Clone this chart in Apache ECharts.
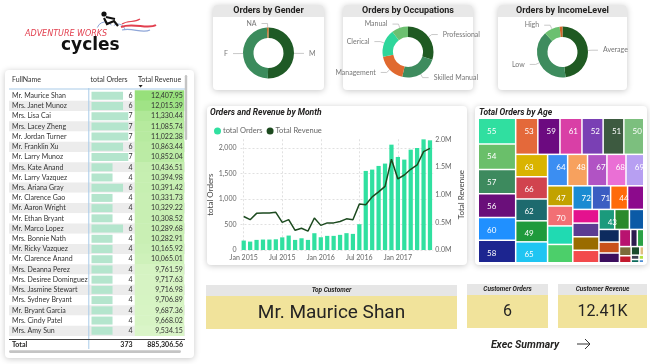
<!DOCTYPE html>
<html><head><meta charset="utf-8">
<script src="https://cdn.jsdelivr.net/npm/echarts@6/dist/echarts.min.js"></script>
<style>html,body{margin:0;padding:0;background:#fff}#c{width:650px;height:364px}</style>
</head><body><div id="c"></div><script>
// ---------- DATA ----------
const custNames = ['Mr. Maurice Shan','Mrs. Janet Munoz','Mrs. Lisa Cai','Mrs. Lacey Zheng','Mr. Jordan Turner','Mr. Franklin Xu','Mr. Larry Munoz','Mrs. Kate Anand','Mr. Larry Vazquez','Mrs. Ariana Gray','Mr. Clarence Gao','Mr. Aaron Wright','Mr. Ethan Bryant','Mr. Marco Lopez','Mrs. Bonnie Nath','Mr. Ricky Vazquez','Mr. Clarence Anand','Mrs. Deanna Perez','Mrs. Desiree Dominguez','Mrs. Jasmine Stewart','Mrs. Sydney Bryant','Mr. Bryant Garcia','Mrs. Cindy Patel','Mrs. Amy Sun'];
const custOrders = [6,6,7,7,7,6,7,4,4,6,4,4,4,6,4,4,4,4,4,4,4,4,4,4];
const custRevenue = [12407.95,12015.39,11330.44,11085.74,11022.38,10863.44,10852.04,10436.51,10394.98,10391.42,10331.73,10329.22,10308.52,10289.68,10282.91,10165.92,10065.01,9761.59,9717.63,9716.98,9706.89,9687.36,9668.02,9534.15];
const tableTotalOrders = 373;
const tableTotalRevenue = 885306.56;

const genderCats = ['M','F','NA'];
const genderOrders = [12200, 11750, 250];
const occCats = ['Professional','Skilled Manual','Management','Clerical','Manual'];
const occOrders = [7400, 5900, 4550, 4350, 2600];
const incomeCats = ['Average','Low','High','NA'];
const incomeOrders = [11900, 9900, 2500, 450];

const months = ['Jan 2015','Feb 2015','Mar 2015','Apr 2015','May 2015','Jun 2015','Jul 2015','Aug 2015','Sep 2015','Oct 2015','Nov 2015','Dec 2015','Jan 2016','Feb 2016','Mar 2016','Apr 2016','May 2016','Jun 2016','Jul 2016','Aug 2016','Sep 2016','Oct 2016','Nov 2016','Dec 2016','Jan 2017','Feb 2017','Mar 2017','Apr 2017','May 2017','Jun 2017'];
const monthOrders = [185,165,198,205,205,210,248,283,198,230,198,329,250,277,277,297,330,316,505,1550,1576,1648,1694,2065,1824,1772,1967,2000,2169,2150];
const monthRevenue = [605000,548000,662000,668000,670000,680000,500000,548000,356000,392000,340000,578000,445000,490000,490000,515000,563000,548000,829000,816000,960000,1050000,1150000,1639000,1283000,1355000,1458000,1536000,1777000,1837000];

const ages = [55,54,57,56,60,58,53,59,61,52,51,50,63,66,62,49,65,64,48,67,68,69,47,70,45,46,72,71,44,73,74,76,75,77,43,78,79,42,81,80,82,83,84,41,85,86,40,87,88,89,90];
const ageOrders = [940,935,885,860,835,820,780,778,775,745,730,700,698,690,680,655,650,615,610,595,585,545,495,490,455,450,445,425,390,372,350,348,345,318,308,287,280,253,218,195,189,110,108,105,80,72,33,33,25,20,15];

// ---------- STYLES ----------
const genderColors = ['#1f5a26','#3b8b5c','#c8702a'];
const occColors = ['#1f5a22','#3e8c5e','#e0692f','#2fd69b','#6cc070'];
const incomeColors = ['#1f5a22','#3e8c5e','#6cc070','#d0652a'];
const ageColors = ['#30dfa0','#6abf6a','#3d8a5e','#6a0f7a','#2090ff','#1c2590','#e4693a','#6c0a80','#d93fa6','#7a40b4','#3d5a40','#7cbf7e','#d9b400','#d1434e','#1d6a6e','#1f9a3c','#20c5f2','#3b8ef2','#f7a15e','#b153c4','#ea6fd5','#b79ff2','#c2a200','#f26f74','#20dab2','#4ccf6a','#1b8bd2','#3b5dc2','#ff6a0a','#8c0a8c','#e4128e','#5b3c92','#9a6c00','#f24a4c','#1b9a7c','#2a8a2c','#0b5aa6','#0d2b5e','#c9511b','#3c0e5e','#b8126f','#2c1b4e','#2aa146','#7b6b3b','#c21a2e','#1b4b2c','#3c4050','#e0c080','#0e6b5b','#b2e242','#4b8bd2'];
const unlabeledAges = [73,74,78,79,42,80,82,83,84,41,85,86,40,87,88,89,90];

const F = 'Lato, "Open Sans", sans-serif';
const FT = '"Liberation Sans Narrow", Roboto, sans-serif';
const FD = 'Roboto, sans-serif';
const fmt2 = v => v.toLocaleString('en-US',{minimumFractionDigits:2,maximumFractionDigits:2});

const rowsTop = 90.6, rowH = 10.22, tableH = rowH*custNames.length;

const chart = echarts.init(document.getElementById('c'));

function card(x,y,w,h,header){
  const els = [{type:'rect', z:0, shape:{x:x,y:y,width:w,height:h,r:4}, style:{fill:'#fff', shadowBlur:6, shadowOffsetY:1, shadowColor:'rgba(0,0,0,0.22)'}}];
  if(header) els.push({type:'rect', z:1, shape:{x:x,y:y,width:w,height:12,r:[4,4,0,0]}, style:{fill:'#e8e8e8'}});
  return els;
}
function txt(x,y,t,o){
  return {type:'text', z:20, x:x, y:y, style:Object.assign({text:t, fill:'#252423', font:'7px '+F, verticalAlign:'middle', align:'left'}, o||{})};
}
function pieSeries(center, cats, vals, colors){
  return {type:'pie', center:center, radius:[15,25.5], startAngle:90, clockwise:true, silent:true,
    avoidLabelOverlap:true,
    data:cats.map((n,i)=>({name:n, value:vals[i], itemStyle:{color:colors[i]}, label:{show: n!=='NA' || cats.length===3}, labelLine:{show: n!=='NA' || cats.length===3}})),
    label:{fontSize:7, color:'#777', fontFamily:F},
    labelLine:{length:4, length2:6, lineStyle:{color:'#bbb', width:0.8}}};
}

const graphics = [].concat(
  card(5,70,189,288,false),
  card(213,5,111,85,true),
  card(343,5,130,85,true),
  card(498,5,129,85,true),
  card(207,106,260,159,false),
  card(475,106,172,159,false),
  [
  // bottom cards
  {type:'rect', z:1, shape:{x:206,y:285,width:251,height:11}, style:{fill:'#e6e6e6'}},
  {type:'rect', z:1, shape:{x:206,y:296,width:251,height:33}, style:{fill:'#f1e39b'}},
  {type:'rect', z:1, shape:{x:467,y:284,width:81,height:11}, style:{fill:'#e6e6e6'}},
  {type:'rect', z:1, shape:{x:467,y:295,width:81,height:33}, style:{fill:'#f1e39b'}},
  {type:'rect', z:1, shape:{x:558,y:284,width:89,height:11}, style:{fill:'#e6e6e6'}},
  {type:'rect', z:1, shape:{x:558,y:295,width:89,height:33}, style:{fill:'#f1e39b'}},
  txt(331.5,290.5,'Top Customer',{align:'center', font:'italic bold 6.5px '+FD}),
  txt(331.5,313,custNames[0],{align:'center', font:'19px '+FD}),
  txt(507.5,289.5,'Customer Orders',{align:'center', font:'italic bold 6.5px '+FD}),
  txt(507.5,312,String(custOrders[0]),{align:'center', font:'16px '+FD}),
  txt(602.5,289.5,'Customer Revenue',{align:'center', font:'italic bold 6.5px '+FD}),
  txt(602.5,312,(custRevenue[0]/1000).toFixed(2)+'K',{align:'center', font:'16px '+FD}),
  txt(525,345,'Exec Summary',{align:'center', font:'italic bold 10.5px '+FD}),
  {type:'polyline', z:20, shape:{points:[[577,344],[590,344]]}, style:{stroke:'#333', lineWidth:1, fill:null}},
  {type:'polyline', z:20, shape:{points:[[585,339],[590,344],[585,349]]}, style:{stroke:'#333', lineWidth:1, fill:null}},
  // titles
  txt(268.5,11,'Orders by Gender',{align:'center', font:'bold 9px '+FT}),
  txt(408,11,'Orders by Occupations',{align:'center', font:'bold 9px '+FT}),
  txt(562.5,11,'Orders by IncomeLevel',{align:'center', font:'bold 9px '+FT}),
  txt(210,113,'Orders and Revenue by Month',{font:'italic bold 8.5px '+FT}),
  txt(479,113,'Total Orders by Age',{font:'italic bold 8.5px '+FT}),
  // logo
  txt(25,34,'ADVENTURE WORKS',{font:'italic 8px "DejaVu Sans", sans-serif', fill:'#e2404f'}),
  txt(61,46,'cycles',{font:'900 17px "DejaVu Sans", sans-serif', fill:'#111'}),
  {type:'circle', z:20, shape:{cx:104,cy:14,r:2.6}, style:{fill:'#111'}},
  {type:'polyline', z:20, shape:{points:[[104,18],[107,24],[114,21],[118,26]]}, style:{stroke:'#111', lineWidth:2.2, fill:null}},
  {type:'polyline', z:20, shape:{points:[[106,17],[115,19]]}, style:{stroke:'#111', lineWidth:2, fill:null}},
  {type:'arc', z:19, shape:{cx:105,cy:30,r:8,startAngle:Math.PI*1.1,endAngle:Math.PI*1.8}, style:{stroke:'#8fa6d8', lineWidth:1, fill:null}},
  {type:'arc', z:19, shape:{cx:118,cy:31,r:7,startAngle:Math.PI*1.3,endAngle:Math.PI*1.95}, style:{stroke:'#8fa6d8', lineWidth:1, fill:null}},
  {type:'bezierCurve', z:19, shape:{x1:121,y1:27,x2:156,y2:25,cpx1:133,cpy1:22,cpx2:148,cpy2:30}, style:{stroke:'#e2404f', lineWidth:2, fill:null}},
  {type:'bezierCurve', z:19, shape:{x1:122,y1:30,x2:150,y2:30,cpx1:132,cpy1:27,cpx2:142,cpy2:34}, style:{stroke:'#8fa6d8', lineWidth:1.2, fill:null}},
  {type:'bezierCurve', z:19, shape:{x1:122,y1:24,x2:140,y2:19,cpx1:128,cpy1:20,cpx2:134,cpy2:23}, style:{stroke:'#e2404f', lineWidth:1.2, fill:null}},
  // table header & decorations
  txt(12,80,'FullName',{fill:'#333'}),
  txt(127.5,80,'total Orders',{fill:'#333', align:'right'}),
  txt(138,80,'Total Revenue',{fill:'#333'}),
  {type:'polygon', z:20, shape:{points:[[138.6,85],[142.6,85],[140.6,87.6]]}, style:{fill:'#222'}},
  {type:'line', z:20, shape:{x1:9,y1:89,x2:185,y2:89}, style:{stroke:'#a9cbe8', lineWidth:1}},
  {type:'line', z:20, shape:{x1:88.8,y1:88,x2:88.8,y2:349}, style:{stroke:'#a9cbe8', lineWidth:1}},
  {type:'rect', z:18, shape:{x:9,y:336,width:176,height:13}, style:{fill:'#fff'}},
  {type:'line', z:20, shape:{x1:9,y1:339.5,x2:185,y2:339.5}, style:{stroke:'#444', lineWidth:1}},
  txt(12,344.5,'Total',{font:'bold 7px '+F}),
  txt(132.5,344.5,String(tableTotalOrders),{font:'bold 7px '+F, align:'right'}),
  txt(183,344.5,fmt2(tableTotalRevenue),{font:'bold 7px '+F, align:'right'}),
  {type:'rect', z:20, shape:{x:9,y:350.3,width:172,height:2.6,r:1.3}, style:{fill:'#c4c4c4'}},
  {type:'rect', z:20, shape:{x:184.8,y:75,width:2.4,height:65,r:1.2}, style:{fill:'#c4c4c4'}}
  ]
);

const option = {
  backgroundColor:'#ffffff',
  animation:false,
  textStyle:{fontFamily:F},
  graphic:{elements:graphics},
  legend:{data:['total Orders','Total Revenue'], left:209, top:122, icon:'circle', itemWidth:7, itemHeight:7, itemGap:4,
    textStyle:{fontSize:7.5, color:'#666', fontFamily:F, padding:[0,0,0,-3]}},
  visualMap:{type:'continuous', show:false, seriesIndex:1, dimension:2, min:9500, max:12408, inRange:{color:['#dbf5c9','#97e07b']}},
  grid:[
    {left:9, top:rowsTop, width:176, height:tableH},
    {left:91.5, top:rowsTop, width:41, height:tableH},
    {left:135, top:rowsTop, width:49, height:tableH},
    {left:240.5, top:139.3, width:192.7, height:110.7}
  ],
  xAxis:[
    {gridIndex:0, type:'value', min:0, max:1, show:false},
    {gridIndex:1, type:'value', min:0, max:7.8, show:false},
    {gridIndex:2, type:'category', data:['Total Revenue'], show:false},
    {gridIndex:3, type:'category', data:months, axisLine:{show:false}, axisTick:{show:false},
      axisLabel:{interval:5, fontSize:7, color:'#666', margin:4, fontFamily:F},
      splitLine:{show:true, interval:5, alignWithLabel:true, lineStyle:{type:[2,2], color:'#e0e0e0'}}}
  ],
  yAxis:[
    {gridIndex:0, type:'category', data:custNames, inverse:true, axisLine:{show:false}, axisTick:{show:false},
      axisLabel:{inside:true, margin:3, fontSize:7, color:'#333', fontFamily:F},
      splitArea:{show:true, areaStyle:{color:['#ffffff','#ececec']}}},
    {gridIndex:1, type:'category', data:custNames, inverse:true, position:'right', axisLine:{show:false}, axisTick:{show:false},
      axisLabel:{formatter:(v,i)=>String(custOrders[i]), align:'right', margin:0, fontSize:7, color:'#333', fontFamily:F}},
    {gridIndex:2, type:'category', data:custNames, inverse:true, show:false},
    {gridIndex:3, type:'value', min:0, max:2170, interval:500, name:'total Orders', nameLocation:'middle', nameGap:24, nameRotate:90,
      nameTextStyle:{fontSize:8, color:'#444', fontFamily:F},
      axisLabel:{formatter:v=>v.toLocaleString('en-US'), fontSize:7, color:'#666', margin:4, showMaxLabel:false, fontFamily:F},
      splitLine:{showMaxLine:false, lineStyle:{type:[2,2], color:'#e0e0e0'}}},
    {gridIndex:3, type:'value', position:'right', min:0, max:2000000, interval:500000, name:'Total Revenue', nameLocation:'middle', nameGap:24, nameRotate:90,
      nameTextStyle:{fontSize:8, color:'#444', fontFamily:F},
      axisLabel:{formatter:v=>(v/1e6).toFixed(1)+'M', fontSize:7, color:'#666', margin:2, fontFamily:F},
      splitLine:{show:false}}
  ],
  series:[
    {type:'bar', xAxisIndex:1, yAxisIndex:1, data:custOrders, barWidth:'78%', silent:true, itemStyle:{color:'#b4e5cd'}},
    {type:'heatmap', xAxisIndex:2, yAxisIndex:2, silent:true, data:custRevenue.map((v,i)=>[0,i,v]),
      label:{show:true, position:'insideRight', distance:1.5, fontSize:7, color:'#333', fontFamily:F, formatter:p=>fmt2(p.value[2])}},
    {type:'bar', name:'total Orders', xAxisIndex:3, yAxisIndex:3, data:monthOrders, barWidth:'66%', silent:true, itemStyle:{color:'#30e0a0'}},
    {type:'line', name:'Total Revenue', xAxisIndex:3, yAxisIndex:4, data:monthRevenue, symbol:'none', silent:true,
      lineStyle:{color:'#1c4a1f', width:1.5}, itemStyle:{color:'#1c4a1f'}},
    pieSeries([268.5,53], genderCats, genderOrders, genderColors),
    pieSeries([408,52], occCats, occOrders, occColors),
    pieSeries([562.5,52], incomeCats, incomeOrders, incomeColors),
    {type:'treemap', left:479, top:119, width:164, height:143, roam:false, nodeClick:false, silent:true,
      breadcrumb:{show:false},
      itemStyle:{gapWidth:1.5, borderWidth:0, borderColor:'#fff'},
      levels:[{itemStyle:{gapWidth:1.5, borderWidth:0, borderColor:'#fff'}}],
      label:{show:true, position:'insideTopLeft', distance:3, fontSize:8, color:'#fff', fontFamily:F, formatter:'{b}', overflow:'none'},
      data:ages.map((a,i)=>({name:String(a), value:ageOrders[i], itemStyle:{color:ageColors[i]},
        label:{show: unlabeledAges.indexOf(a)<0}}))}
  ]
};
chart.setOption(option);
</script></body></html>
